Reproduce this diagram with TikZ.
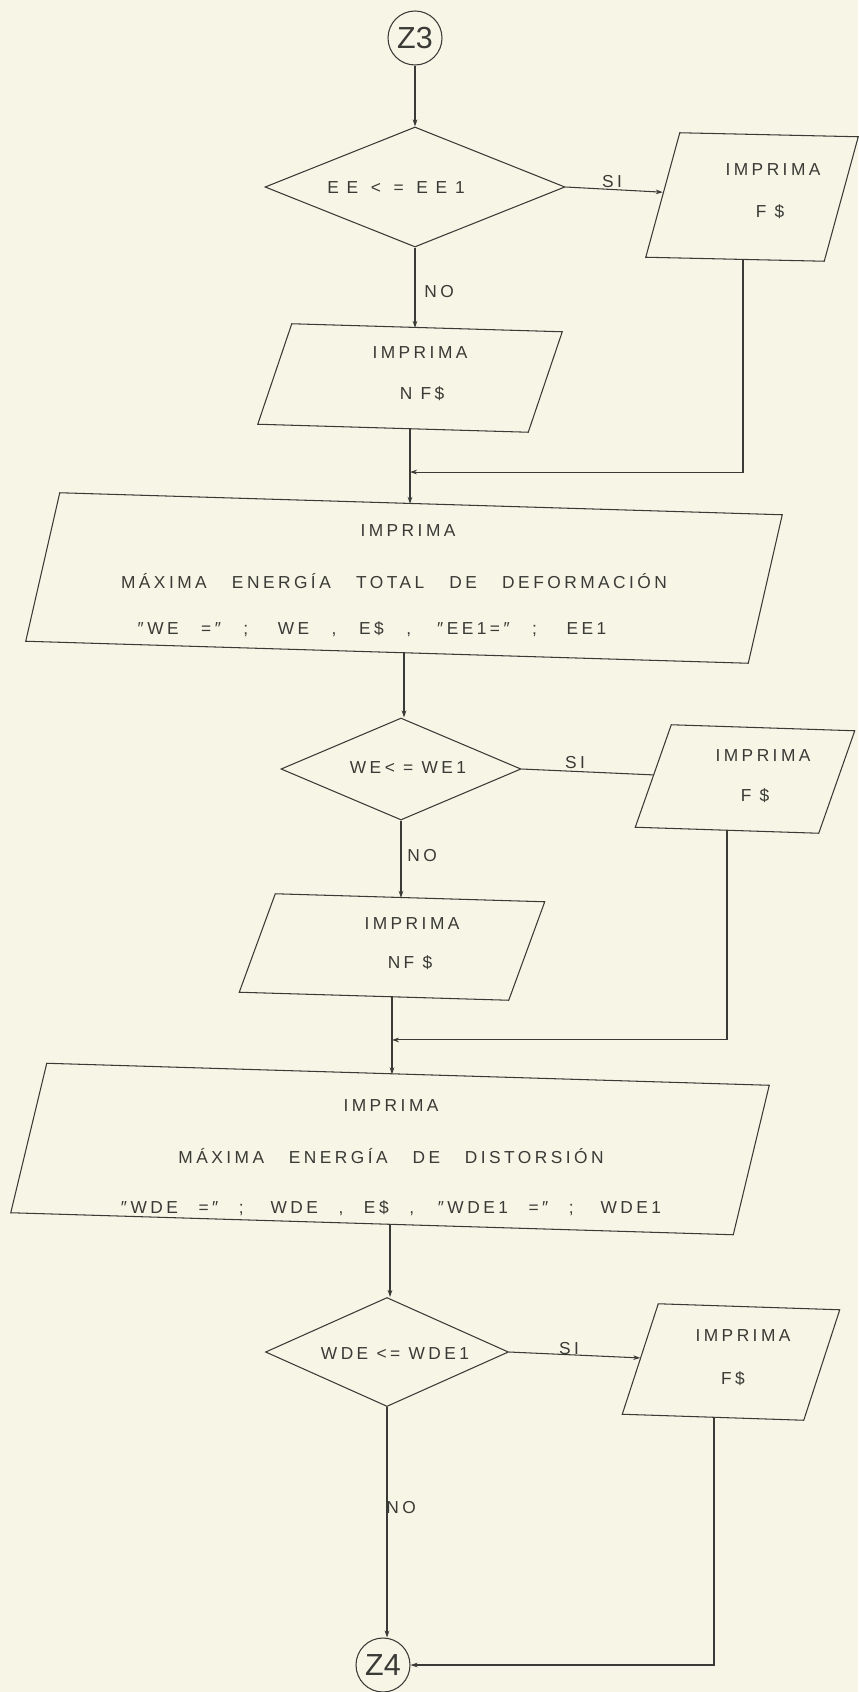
\documentclass[tikz,border=0pt]{standalone}
\usepackage{fontspec}
\setmainfont{Liberation Sans}[LetterSpace=20]
\newfontfamily\zfont{Liberation Sans}
\usetikzlibrary{shapes.geometric,calc,arrows.meta}
\definecolor{paper}{RGB}{247,245,230}
\definecolor{ink}{RGB}{58,58,54}

\begin{document}
\begin{tikzpicture}[x=0.03cm,y=-0.03cm,
  line/.style={draw=ink,line width=0.9pt},
  arr/.style={line,-{Stealth[length=6pt,width=4pt]}},
  txt/.style={text=ink,font=\fontsize{14.8}{18}\selectfont,inner sep=0pt,anchor=base},
  dec/.style={diamond,draw=ink,line width=0.9pt,inner sep=0pt},
  conn/.style={circle,draw=ink,line width=0.9pt,inner sep=0pt,minimum size=1.62cm,
               text=ink,font=\zfont\fontsize{26}{26}\selectfont},
  iobox/.style={rectangle,inner sep=0pt},
]
\fill[paper] (0,0) rectangle (858,1692);
\useasboundingbox (0,0) rectangle (858,1692);

% connectors (terminals)
\node[conn] (z3) at (415,38) {Z3};
\node[conn] (z4) at (383,1665) {Z4};

% decisions
\node[dec,minimum width=9cm,minimum height=3.6cm] (d1) at (415,187) {};
\node[dec,minimum width=7.2cm,minimum height=3.06cm] (d2) at (401,769) {};
\node[dec,minimum width=7.29cm,minimum height=3.27cm] (d3) at (387,1352) {};

% output boxes (frames drawn below as slanted outlines)
\node[iobox,minimum width=5.34cm,minimum height=3.72cm] (f1) at (752,197) {};
\node[iobox,minimum width=8.1cm,minimum height=3.0cm] (nf1) at (410,378) {};
\node[iobox,minimum width=21.66cm,minimum height=4.44cm] (b1) at (404,578) {};
\node[iobox,minimum width=5.49cm,minimum height=3.06cm] (f2) at (745,779) {};
\node[iobox,minimum width=8.07cm,minimum height=2.94cm] (nf2) at (392,947) {};
\node[iobox,minimum width=21.66cm,minimum height=4.47cm] (b2) at (390,1149) {};
\node[iobox,minimum width=5.43cm,minimum height=3.3cm] (f3) at (731,1362) {};

\foreach \n/\o/\s in {f1/17/2, nf1/17/4, b1/17/11, f2/18/3, nf2/18/4, b2/18/11, f3/18/3}
  \draw[line] ($(\n.north west)+(\o,-\s)$) -- ($(\n.north east)+(\o,\s)$)
    -- ($(\n.south east)+(-\o,\s)$) -- ($(\n.south west)+(-\o,-\s)$) -- cycle;

% texts
\node[txt] (d1t) at (396,194) {\addfontfeatures{LetterSpace=45}EE < = EE1};
\node[txt] (d2t) at (408,773) {WE< = WE1};
\node[txt] (d3t) at (395,1359) {WDE <= WDE1};

\node[txt] (f1a) at (773,176) {IMPRIMA};
\node[txt] (f1b) at (770,218) {F \$};
\node[txt] (nf1a) at (420,358) {IMPRIMA};
\node[txt] (nf1b) at (422,399) {N F\$};
\node[txt] (b1a) at (408,536) {IMPRIMA};
\node[txt] (b1b) at (394,588) {\makebox[466pt][s]{MÁXIMA ENERGÍA TOTAL DE DEFORMACIÓN}};
\node[txt] (b1c) at (372,634) {\makebox[400pt][s]{″WE =″ ; WE , E\$ , ″EE1=″ ; EE1}};
\node[txt] (f2a) at (763,761) {IMPRIMA};
\node[txt] (f2b) at (755,801) {F \$};
\node[txt] (nf2a) at (412,929) {IMPRIMA};
\node[txt] (nf2b) at (410,968) {NF \$};
\node[txt] (b2a) at (391,1111) {IMPRIMA};
\node[txt] (b2b) at (391,1163) {\makebox[363pt][s]{MÁXIMA ENERGÍA DE DISTORSIÓN}};
\node[txt] (b2c) at (391,1213) {\makebox[461pt][s]{″WDE =″ ; WDE , E\$ , ″WDE1 =″ ; WDE1}};
\node[txt] (f3a) at (743,1341) {IMPRIMA};
\node[txt] (f3b) at (733,1384) {F\$};

% branch labels
\node[txt] (si1) at (612,188) {SI};
\node[txt] (no1) at (439,298) {NO};
\node[txt] (si2) at (575,768) {SI};
\node[txt] (no2) at (422,861) {NO};
\node[txt] (si3) at (569,1354) {SI};
\node[txt] (no3) at (401,1513) {NO};

% main flow
\draw[arr] (z3.south) -- (z3.south |- d1.north);
\draw[arr] (d1.south) -- (d1.south |- nf1.north);
\draw[arr] (nf1.south) -- (nf1.south |- b1.north);
\draw[arr] (b1.south) -- (b1.south |- d2.north);
\draw[arr] (d2.south) -- (d2.south |- nf2.north);
\draw[arr] (nf2.south) -- (nf2.south |- b2.north);
\draw[arr] (b2.south) -- (b2.south |- d3.north);
\draw[arr] (d3.south) -- (d3.south |- z4.north);

% junctions on the main line
\coordinate (j1) at ($(nf1.south)!0.58!(nf1.south |- b1.north)$);
\coordinate (j2) at ($(nf2.south)!0.56!(nf2.south |- b2.north)$);

% SI branches
\draw[arr] (d1.east) -- (f1);
\draw[line] (d2.east) -- (f2);
\draw[arr] (d3.east) -- (f3);

% returns into the main line
\draw[arr] ([xshift=-0.27cm]f1.south) |- (j1);
\draw[arr] ([xshift=-0.54cm]f2.south) |- (j2);
\draw[arr] ([xshift=-0.51cm]f3.south) |- (z4.east);
\end{tikzpicture}
\end{document}
